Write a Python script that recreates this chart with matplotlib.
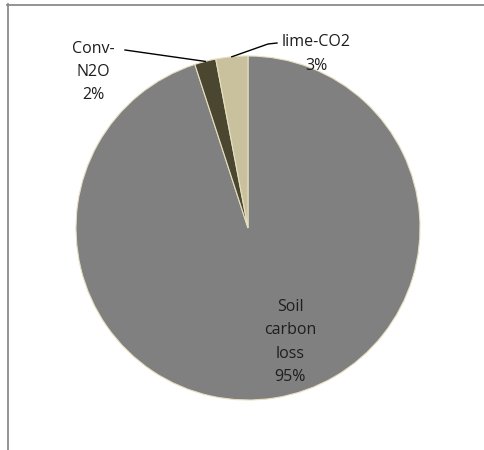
import matplotlib.pyplot as plt
import numpy as np
from matplotlib.lines import Line2D

# data
labels = ["Soil\ncarbon\nloss", "Conv-\nN2O", "lime-CO2"]
shares = [95, 2, 3]
colors = ["#808080", "#4b4630", "#c9c19d"]

plt.rcParams['font.family'] = ['Open Sans', 'DejaVu Sans']

fig = plt.figure(figsize=(4.84, 4.5), dpi=100)
ax = fig.add_axes([0, 0, 1, 1])

# work in pixel-like coords (y up)
cx, cy, r = 248, 450 - 228, 172
wedges, _ = ax.pie(shares, colors=colors, startangle=90, counterclock=False,
                   center=(cx, cy), radius=r, frame=True,
                   wedgeprops=dict(edgecolor="#e6dfc0", linewidth=0.8))
ax.set_xlim(0, 484)
ax.set_ylim(0, 450)
ax.set_aspect('equal')
ax.axis('off')

txt = dict(ha='center', va='center', fontsize=11.5, color='#1e1e1e', linespacing=1.6)

# label text positions (pixel coords, y up)
label_pos = [(290, 450 - 342), (93, 450 - 72), (316, 450 - 54)]
for i, (w, lab) in enumerate(zip(wedges, labels)):
    x, y = label_pos[i]
    ax.text(x, y, f"{lab}\n{shares[i]}%", **txt)

# leader lines for small slices
def mid_point(w):
    a = np.deg2rad((w.theta1 + w.theta2) / 2)
    return cx + r * np.cos(a), cy + r * np.sin(a)

px, py = mid_point(wedges[1])
ax.plot([125, px], [450 - 50, py], color='black', lw=1.0)
px, py = mid_point(wedges[2])
ax.plot([px, 268, 277], [py, 450 - 44, 450 - 43], color='black', lw=1.0)

# chart border (cropped)
fig.add_artist(Line2D([7 / 484, 1], [1 - 4.5 / 450, 1 - 4.5 / 450], color='#8a8a8a', lw=1.3))
fig.add_artist(Line2D([8 / 484, 8 / 484], [0, 1 - 4 / 450], color='#8a8a8a', lw=1.3))

fig.savefig("out.png", dpi=100)
